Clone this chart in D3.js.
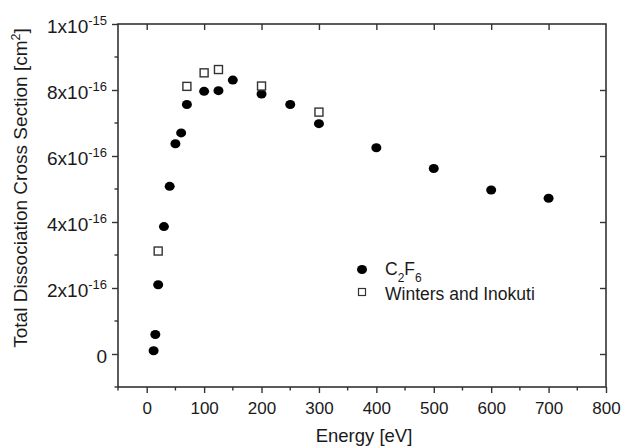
<!DOCTYPE html>
<html><head><meta charset="utf-8">
<script src="https://cdn.jsdelivr.net/npm/d3@7"></script>
<style>body{margin:0;background:#fff}svg{display:block}text{font-family:"Liberation Sans",Arial,sans-serif;fill:#1a1a1a}</style>
</head><body><svg id="c" width="627" height="447"></svg>
<script>
const c2f6Energy = [12, 15, 20, 30, 40, 50, 60, 70, 100, 125, 150, 200, 250, 300, 400, 500, 600, 700];
const c2f6Sigma  = [1.0e-17, 5.9e-17, 2.1e-16, 3.86e-16, 5.08e-16, 6.37e-16, 6.7e-16, 7.56e-16, 7.96e-16, 7.98e-16, 8.3e-16, 7.88e-16, 7.56e-16, 6.98e-16, 6.25e-16, 5.62e-16, 4.97e-16, 4.72e-16];
const wiEnergy = [20, 70, 100, 125, 200, 300];
const wiSigma  = [3.12e-16, 8.11e-16, 8.52e-16, 8.62e-16, 8.12e-16, 7.33e-16];
const xTicks = [0, 100, 200, 300, 400, 500, 600, 700, 800];
const yTicks = [0, 2e-16, 4e-16, 6e-16, 8e-16, 1e-15];
const yTickMant = ["0", "2x10", "4x10", "6x10", "8x10", "1x10"];
const yTickExp = ["", "-16", "-16", "-16", "-16", "-15"];

const svg = d3.select("#c");
const L = 118, R = 606, T = 24, B = 387;
const x = d3.scaleLinear().domain([-50, 800]).range([L, R]);
const y = d3.scaleLinear().domain([-1e-16, 1e-15]).range([B, T]);
const axisColor = "#333";
const FONT = "Liberation Sans, Arial, sans-serif";

// frame
svg.append("rect").attr("x", L).attr("y", T).attr("width", R - L).attr("height", B - T)
  .attr("fill", "none").attr("stroke", axisColor).attr("stroke-width", 1.6);

// bottom axis
const xMinor = d3.range(-50, 801, 50).filter(v => !xTicks.includes(v));
const gb = svg.append("g").attr("transform", `translate(0,${B})`);
gb.call(d3.axisBottom(x).tickValues(xTicks).tickSize(6).tickPadding(3).tickFormat(d3.format("d")));
gb.select(".domain").remove();
gb.attr("font-family", FONT).attr("font-size", 17);
gb.selectAll("line").attr("stroke", axisColor).attr("stroke-width", 1.4);
gb.selectAll("text").attr("dy", "1.04em").style("fill", "#1a1a1a");
gb.selectAll(".minor").data(xMinor).enter().append("line")
  .attr("x1", d => x(d)).attr("x2", d => x(d)).attr("y1", 0).attr("y2", 3.5)
  .attr("stroke", axisColor).attr("stroke-width", 1.4);

// top axis (inward, majors only)
const gt = svg.append("g").attr("transform", `translate(0,${T})`);
gt.call(d3.axisBottom(x).tickValues(xTicks.filter(v => v < 800)).tickSize(6).tickFormat(""));
gt.select(".domain").remove();
gt.selectAll("line").attr("stroke", axisColor).attr("stroke-width", 1.4);

// left axis
const yMinor = [-1e-16, 1e-16, 3e-16, 5e-16, 7e-16, 9e-16];
const gl = svg.append("g").attr("transform", `translate(${L},0)`);
gl.call(d3.axisLeft(y).tickValues(yTicks).tickSize(6).tickFormat(""));
gl.select(".domain").remove();
gl.selectAll("line").attr("stroke", axisColor).attr("stroke-width", 1.4);
gl.selectAll(".minor").data(yMinor).enter().append("line")
  .attr("x1", -3.5).attr("x2", 0).attr("y1", d => y(d)).attr("y2", d => y(d))
  .attr("stroke", axisColor).attr("stroke-width", 1.4);
yTicks.forEach((v, i) => {
  const t = svg.append("text").attr("text-anchor", "end").attr("x", L - 11).attr("y", y(v) + 9)
    .attr("font-size", 19);
  t.append("tspan").text(yTickMant[i]);
  if (yTickExp[i]) t.append("tspan").attr("font-size", 13).attr("dy", -8.5).text(yTickExp[i]);
});

// right axis (inward, majors only)
const gr = svg.append("g").attr("transform", `translate(${R},0)`);
gr.call(d3.axisRight(y).tickValues(yTicks.filter(v => v < 1e-15)).tickSize(-6).tickFormat(""));
gr.select(".domain").remove();
gr.selectAll("line").attr("stroke", axisColor).attr("stroke-width", 1.4);

// axis titles
svg.append("text").attr("x", 364).attr("y", 442).attr("text-anchor", "middle")
  .attr("font-size", 18.5).text("Energy [eV]");
const yt = svg.append("text").attr("transform", `translate(27,188) rotate(-90)`)
  .attr("text-anchor", "middle").attr("font-size", 19);
yt.append("tspan").text("Total Dissociation Cross Section [cm");
yt.append("tspan").attr("font-size", 12.5).attr("dy", -7).text("2");
yt.append("tspan").attr("dy", 7).text("]");

// data
svg.append("g").selectAll("ellipse").data(c2f6Energy).enter().append("ellipse")
  .attr("cx", (d) => x(d)).attr("cy", (d, i) => y(c2f6Sigma[i]))
  .attr("rx", 5).attr("ry", 4.5).attr("fill", "#000");
svg.append("g").selectAll("rect").data(wiEnergy).enter().append("rect")
  .attr("x", d => x(d) - 4).attr("y", (d, i) => y(wiSigma[i]) - 4)
  .attr("width", 8).attr("height", 8).attr("fill", "#fff")
  .attr("stroke", "#333").attr("stroke-width", 1.4);

// legend
const lg = svg.append("g");
lg.append("ellipse").attr("cx", 362).attr("cy", 269.5).attr("rx", 5).attr("ry", 4.5).attr("fill", "#000");
const lt = lg.append("text").attr("x", 385).attr("y", 274.5).attr("font-size", 17.5);
lt.append("tspan").text("C");
lt.append("tspan").attr("font-size", 12).attr("dy", 7).text("2");
lt.append("tspan").attr("dy", -7).text("F");
lt.append("tspan").attr("font-size", 12).attr("dy", 7).text("6");
lg.append("rect").attr("x", 358.5).attr("y", 288.5).attr("width", 7).attr("height", 7)
  .attr("fill", "#fff").attr("stroke", "#333").attr("stroke-width", 1.2);
lg.append("text").attr("x", 385).attr("y", 300).attr("font-size", 17.5).text("Winters and Inokuti");
</script></body></html>
